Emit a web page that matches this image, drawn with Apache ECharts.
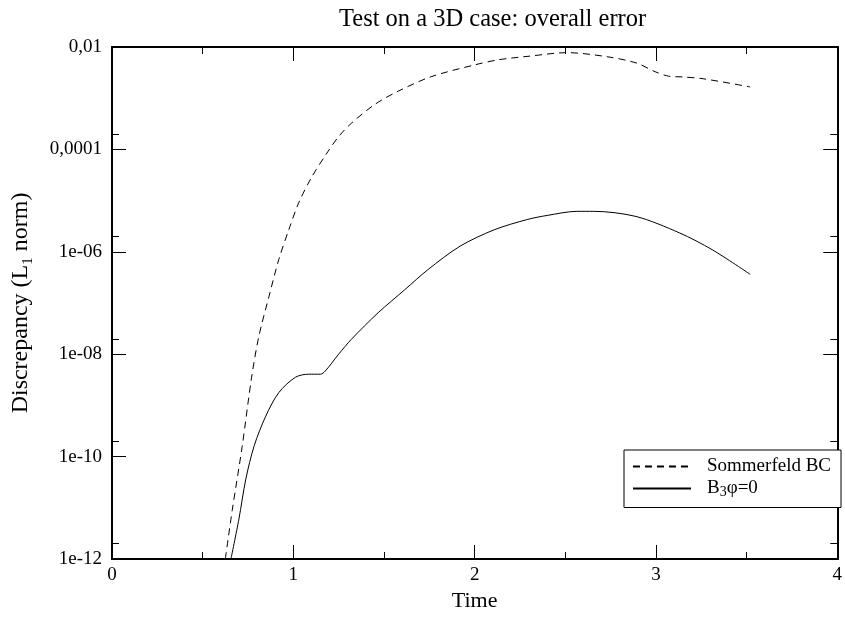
<!DOCTYPE html>
<html>
  <head>
    <meta charset="utf-8" />
    <title>Test on a 3D case: overall error</title>
    <script src="https://cdn.jsdelivr.net/npm/echarts@6/dist/echarts.min.js"></script>
  </head>
  <body style="margin:0">
    <div id="main" style="width:845px;height:617px;"></div>
    <script type="text/javascript">
      // values
      var sommerfeldTime = [0.625, 0.663, 0.718, 0.77, 0.81, 0.866, 0.92, 0.975, 1.03, 1.1, 1.18, 1.25, 1.32, 1.45, 1.58, 1.76, 2.0, 2.13, 2.3, 2.51, 2.73, 2.89, 3.0, 3.07, 3.15, 3.26, 3.52]
      var sommerfeldErr = [1e-12, 8.9e-12, 1.58e-10, 3.55e-9, 2.24e-8, 1.35e-7, 7.08e-7, 2.69e-6, 9.12e-6, 2.82e-5, 7.94e-5, 1.78e-4, 3.24e-4, 7.59e-4, 1.38e-3, 2.63e-3, 4.47e-3, 5.62e-3, 6.61e-3, 7.76e-3, 6.46e-3, 4.90e-3, 3.24e-3, 2.69e-3, 2.60e-3, 2.40e-3, 1.66e-3]
      var b3Time = [0.656, 0.70, 0.738, 0.784, 0.848, 0.92, 1.012, 1.085, 1.15, 1.176, 1.25, 1.32, 1.468, 1.615, 1.742, 1.92, 2.108, 2.29, 2.4, 2.564, 2.656, 2.89, 3.13, 3.31, 3.52]
      var b3Err = [1e-12, 6.03e-12, 3.63e-11, 1.62e-10, 6.17e-10, 1.78e-9, 3.55e-9, 4.07e-9, 4.07e-9, 4.68e-9, 1e-8, 1.95e-8, 6.46e-8, 1.82e-7, 4.47e-7, 1.29e-6, 2.69e-6, 4.27e-6, 5.13e-6, 6.17e-6, 6.17e-6, 4.90e-6, 2.34e-6, 1.10e-6, 3.63e-7]

      var seriesNames = ['Sommerfeld BC', 'B3φ=0']
      var yMajorTicks = [1e-12, 1e-10, 1e-8, 1e-6, 1e-4, 1e-2]
      var yMajorLabels = ['1e-12', '1e-10', '1e-08', '1e-06', '0,0001', '0,01']
      var yMinorTicks = [2e-12, 2e-10, 2e-8, 2e-6, 2e-4]

      var font = 'Liberation Serif'
      var myChart = echarts.init(document.getElementById('main'))

      function pairs(xs, ys) {
        return xs.map(function (x, i) { return [x, ys[i]] })
      }

      function yLabel(v) {
        for (var i = 0; i < yMajorTicks.length; i++) {
          if (Math.abs(Math.log10(v) - Math.log10(yMajorTicks[i])) < 1e-6) return yMajorLabels[i]
        }
        return ''
      }

      function xAxisDef(pos, showLabel) {
        return {
          type: 'value', position: pos, min: 0, max: 4, interval: 1,
          name: showLabel ? 'Time' : '', nameLocation: 'middle', nameGap: 31,
          nameTextStyle: { fontFamily: font, fontSize: 22, color: '#000' },
          axisLine: { show: true, onZero: false, lineStyle: { color: '#000', width: 2 } },
          axisTick: { show: true, inside: true, length: 14, lineStyle: { color: '#000' } },
          minorTick: { show: true, splitNumber: 2, length: 7, lineStyle: { color: '#000' } },
          axisLabel: { show: showLabel, margin: 7, fontFamily: font, fontSize: 19, color: '#000' },
          splitLine: { show: false }
        }
      }

      function yAxisDef(pos, ticks, len, showLabel) {
        return {
          type: 'log', logBase: 10, position: pos, min: 1e-12, max: 1e-2,
          name: showLabel ? '{a|Discrepancy (L}{s|1}{a| norm)}' : '',
          nameLocation: 'middle', nameGap: 76, nameRotate: 90,
          nameTextStyle: {
            color: '#000',
            rich: {
              a: { fontFamily: font, fontSize: 24, color: '#000', lineHeight: 30 },
              s: { fontFamily: font, fontSize: 15, color: '#000', lineHeight: 15, verticalAlign: 'bottom' }
            }
          },
          axisLine: { show: true, onZero: false, lineStyle: { color: '#000', width: 2 } },
          axisTick: { show: true, inside: true, length: len, customValues: ticks, lineStyle: { color: '#000' } },
          axisLabel: {
            show: showLabel, margin: 10, fontFamily: font, fontSize: 19, color: '#000',
            customValues: showLabel ? yMajorTicks : undefined, formatter: yLabel
          },
          splitLine: { show: false },
          minorTick: { show: false }
        }
      }

      var option = {
        animation: false,
        backgroundColor: '#fff',
        title: {
          text: 'Test on a 3D case: overall error', left: 334, top: 2,
          textStyle: { fontFamily: font, fontSize: 24.5, fontWeight: 'normal', color: '#000' }
        },
        grid: { left: 112, right: 3, top: 47, bottom: 57, containLabel: false },
        legend: {
          data: seriesNames, orient: 'vertical', left: 624, top: 450,
          backgroundColor: '#fff', borderColor: '#000', borderWidth: 1,
          padding: [7, 10, 8, 8], itemWidth: 58, itemHeight: 14, itemGap: 3,
          itemStyle: { opacity: 0 },
          formatter: function (name) {
            if (name === 'B3φ=0') return '{g|}{n|B}{s|3}{n|φ=0}'
            return '{g|}{n|' + name + '}'
          },
          textStyle: {
            fontFamily: font, fontSize: 19, color: '#000',
            rich: {
              g: { width: 11 },
              n: { fontFamily: font, fontSize: 19, color: '#000', lineHeight: 22 },
              s: { fontFamily: font, fontSize: 14, color: '#000', lineHeight: 12, verticalAlign: 'bottom' }
            }
          }
        },
        xAxis: [xAxisDef('bottom', true), xAxisDef('top', false)],
        yAxis: [
          yAxisDef('left', yMajorTicks, 14, true),
          yAxisDef('left', yMinorTicks, 7, false),
          yAxisDef('right', yMajorTicks, 14, false),
          yAxisDef('right', yMinorTicks, 7, false)
        ],
        series: [
          {
            name: seriesNames[0], type: 'line', xAxisIndex: 0, yAxisIndex: 0,
            data: pairs(sommerfeldTime, sommerfeldErr), smooth: 0.3,
            showSymbol: false, symbol: 'none',
            lineStyle: { color: '#000', width: 1, type: [7, 5] },
            itemStyle: { color: '#000' }
          },
          {
            name: seriesNames[1], type: 'line', xAxisIndex: 0, yAxisIndex: 0,
            data: pairs(b3Time, b3Err), smooth: 0.3,
            showSymbol: false, symbol: 'none',
            lineStyle: { color: '#000', width: 1 },
            itemStyle: { color: '#000' }
          }
        ]
      }

      myChart.setOption(option)
    </script>
  </body>
</html>
